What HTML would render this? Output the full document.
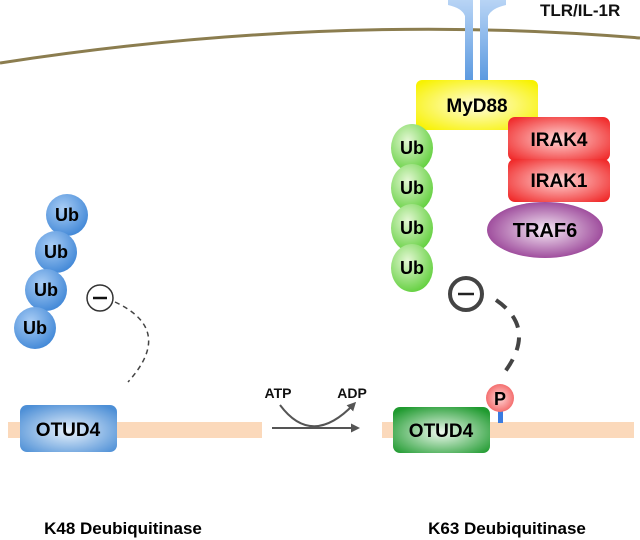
<!DOCTYPE html>
<html><head><style>body{margin:0;background:#fff}svg{display:block}</style></head><body>
<svg width="640" height="540" viewBox="0 0 640 540" font-family="Liberation Sans, sans-serif" font-weight="bold">
<defs>
<radialGradient id="blue" cx="40%" cy="35%" r="70%"><stop offset="0" stop-color="#a9cdf5"/><stop offset="1" stop-color="#3f86d6"/></radialGradient>
<radialGradient id="green" cx="40%" cy="35%" r="70%"><stop offset="0" stop-color="#e4f7d4"/><stop offset="1" stop-color="#5fcf3a"/></radialGradient>
<radialGradient id="yel" cx="50%" cy="50%" r="65%"><stop offset="0" stop-color="#fffde0"/><stop offset="1" stop-color="#f8f200"/></radialGradient>
<radialGradient id="red" cx="50%" cy="50%" r="65%"><stop offset="0" stop-color="#ffd6d6"/><stop offset="1" stop-color="#f02a2a"/></radialGradient>
<radialGradient id="pur" cx="50%" cy="50%" r="60%"><stop offset="0" stop-color="#f6eaf5"/><stop offset="1" stop-color="#8e2f8c"/></radialGradient>
<radialGradient id="obl" cx="50%" cy="55%" r="65%"><stop offset="0" stop-color="#e8f2fc"/><stop offset="1" stop-color="#4d8fd6"/></radialGradient>
<radialGradient id="ogr" cx="50%" cy="55%" r="65%"><stop offset="0" stop-color="#eef9ee"/><stop offset="1" stop-color="#1f9a2f"/></radialGradient>
<radialGradient id="pp" cx="50%" cy="50%" r="60%"><stop offset="0" stop-color="#ffd8d8"/><stop offset="1" stop-color="#f25a5a"/></radialGradient>
<linearGradient id="rec" x1="0" y1="0" x2="0" y2="1"><stop offset="0" stop-color="#b8d4f5"/><stop offset="1" stop-color="#5c9ae0"/></linearGradient>
<marker id="ah" markerWidth="9" markerHeight="9" refX="6" refY="4.5" orient="auto" markerUnits="userSpaceOnUse"><path d="M0,0 L9,4.5 L0,9z" fill="#555"/></marker>
</defs>
<path d="M0,63 Q330,12 640,38" fill="none" stroke="#8b7d4f" stroke-width="3"/>
<path d="M448,0 L448,5 Q462,8 465,16 L465,80 L473,80 L473,0 Z" fill="url(#rec)"/>
<path d="M506,0 L506,5 Q492,8 488,16 L488,80 L480,80 L480,0 Z" fill="url(#rec)"/>
<text x="540" y="16" font-size="17" fill="#111">TLR/IL-1R</text>
<rect x="416" y="80" width="122" height="50" rx="6" fill="url(#yel)"/>
<text x="477" y="112" font-size="19" text-anchor="middle">MyD88</text>
<rect x="508" y="117" width="102" height="44" rx="7" fill="url(#red)"/>
<text x="559" y="146" font-size="19" text-anchor="middle">IRAK4</text>
<rect x="508" y="159" width="102" height="43" rx="7" fill="url(#red)"/>
<text x="559" y="187" font-size="19" text-anchor="middle">IRAK1</text>
<ellipse cx="545" cy="230" rx="58" ry="28" fill="url(#pur)"/>
<text x="545" y="237" font-size="20" text-anchor="middle">TRAF6</text>
<g font-size="18" text-anchor="middle">
<ellipse cx="412" cy="148" rx="21" ry="24" fill="url(#green)"/><text x="412" y="154">Ub</text>
<ellipse cx="412" cy="188" rx="21" ry="24" fill="url(#green)"/><text x="412" y="194">Ub</text>
<ellipse cx="412" cy="228" rx="21" ry="24" fill="url(#green)"/><text x="412" y="234">Ub</text>
<ellipse cx="412" cy="268" rx="21" ry="24" fill="url(#green)"/><text x="412" y="274">Ub</text>
<circle cx="67" cy="215" r="21" fill="url(#blue)"/><text x="67" y="221">Ub</text>
<circle cx="56" cy="252" r="21" fill="url(#blue)"/><text x="56" y="258">Ub</text>
<circle cx="46" cy="290" r="21" fill="url(#blue)"/><text x="46" y="296">Ub</text>
<circle cx="35" cy="328" r="21" fill="url(#blue)"/><text x="35" y="334">Ub</text>
</g>
<circle cx="100" cy="298" r="13" fill="#fff" stroke="#333" stroke-width="1.5"/>
<line x1="93" y1="298" x2="107" y2="298" stroke="#111" stroke-width="2.5"/>
<path d="M115,302 Q175,330 128,382" fill="none" stroke="#444" stroke-width="1.5" stroke-dasharray="5,4"/>
<rect x="8" y="422" width="254" height="16" fill="#fbd9bb"/>
<rect x="20" y="405" width="97" height="47" rx="7" fill="url(#obl)"/>
<text x="68" y="436" font-size="19" text-anchor="middle">OTUD4</text>
<line x1="272" y1="428" x2="357" y2="428" stroke="#555" stroke-width="2" marker-end="url(#ah)"/>
<path d="M280,405 Q312,448 354,404" fill="none" stroke="#555" stroke-width="2" marker-end="url(#ah)"/>
<text x="278" y="398" font-size="14" text-anchor="middle" fill="#111">ATP</text>
<text x="352" y="398" font-size="14" text-anchor="middle" fill="#111">ADP</text>
<circle cx="466" cy="294" r="16" fill="#fff" stroke="#444" stroke-width="4"/>
<line x1="458" y1="294" x2="474" y2="294" stroke="#222" stroke-width="2.5"/>
<path d="M496,300 Q540,330 500,378" fill="none" stroke="#444" stroke-width="4" stroke-dasharray="13,10"/>
<rect x="382" y="422" width="252" height="16" fill="#fbd9bb"/>
<rect x="498" y="410" width="5" height="13" fill="#3a7be0"/>
<circle cx="500" cy="398" r="14" fill="url(#pp)"/>
<text x="500" y="405" font-size="18" text-anchor="middle">P</text>
<rect x="393" y="407" width="97" height="46" rx="7" fill="url(#ogr)"/>
<text x="441" y="437" font-size="19" text-anchor="middle">OTUD4</text>
<text x="123" y="534" font-size="17" text-anchor="middle">K48 Deubiquitinase</text>
<text x="507" y="534" font-size="17" text-anchor="middle">K63 Deubiquitinase</text>
</svg>
</body></html>
